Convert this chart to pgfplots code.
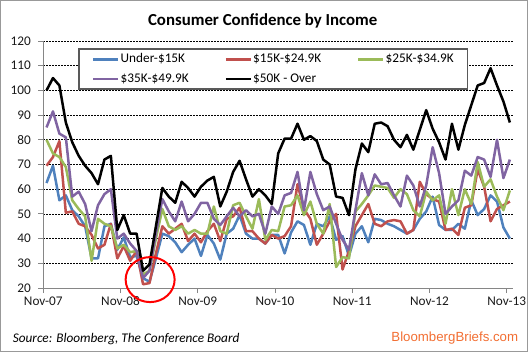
\documentclass[border=0pt]{standalone}
\usepackage{pgfplots}
\usepackage{pgfplotstable}
\pgfplotsset{compat=1.18}
\usepackage{fontspec}
\setmainfont{Carlito}
\newfontfamily\arialfont{Liberation Sans}
\definecolor{sblue}{RGB}{79,129,189}
\definecolor{sred}{RGB}{192,80,77}
\definecolor{sgreen}{RGB}{155,187,89}
\definecolor{spurple}{RGB}{128,100,162}
\definecolor{axgray}{RGB}{134,134,134}
\definecolor{orng}{RGB}{242,110,50}

\pgfplotstableread{
i blue red green purple black
0 62.5 69.5 80 85 100
1 69.5 73 74.5 91.5 105
2 55.5 79.5 73 82.5 102
3 57.5 50.5 69 81 87
4 51.5 51 55.5 57 79
5 49 46 52 59 73.5
6 45 45 49 54 69.5
7 32 41.5 31 43 66.5
8 32 36 48 53.5 62
9 45 37.5 46 58 72
10 46 46 45 60 73.5
11 35.5 32 36 40 43.5
12 40.5 37 37.5 42 49.5
13 32.5 31 34.5 38 42
14 33 35 35 35 42
15 24 21.5 25.5 24 27
16 22.5 22 27 27 29.5
17 32 34 40 42 45
18 42 45 52 56 60.5
19 41 42 45 51 57
20 38.5 44 43.5 47 54.5
21 34.5 46 45 55 63
22 37.5 39 42 47 60.5
23 40 42 43.5 50 57
24 33 38.5 42 54.5 61
25 41.5 43 42 54.5 63.5
26 38 46 53 48 65
27 31.5 39 43 45.5 53
28 42 48 42 49 59
29 44 49 53.5 52.5 67
30 49.5 52.5 54.5 49 71.5
31 42 43 49 51.5 64
32 40 43 44 49 57
33 40 40 56 50 60
34 38 38 39.5 42 57.5
35 41.5 41.5 43.5 53 54
36 41.5 40 43 50 74.5
37 34 41 53 57.5 80.5
38 42.5 45 53.5 58.5 80.5
39 47 62 57.5 67 86.5
40 45.5 52 49.5 51.5 80
41 37.5 48 55 67 81.5
42 46 37.5 46 58 79.5
43 45 42 42 51.5 72
44 49 47 54 53 70
45 39.5 50 28.5 46 57
46 41 27.5 32.5 39.5 56.5
47 33 35 32 35.5 49.5
48 42 45 51 51.5 68
49 45 49.5 54 66.5 78.5
50 38.5 54 57.5 57.5 75
51 48 46 61.5 66 86.5
52 47.5 45 61 62 87
53 46 47 60.5 62.5 85.5
54 45 47.5 56.5 57.5 80
55 43.5 47 60 53 77
56 42 42 58 65.5 82
57 43.5 43.5 51.5 61.5 76
58 48 63 49 53 84
59 51 58 59 61.5 92
60 57 56 55.5 77 84.5
61 45.5 55 57.5 66.5 79
62 43.5 43.5 46 50 72
63 43.5 44 60 53 86.5
64 46 41.5 49.5 55.5 76
65 44 52.5 60 67.5 86
66 55.5 53.5 54 65.5 94
67 49.5 68 71 73 102
68 52 61 61 72 103
69 57.5 47 64 65 109
70 55 52 57 80 102
71 44.5 53.5 51.5 64.5 95.5
72 40 55 59.5 72 87
}\datatable

\begin{document}
\begin{tikzpicture}
\useasboundingbox (0,0) rectangle (528bp,352bp);
\draw[black!40, line width=1bp] (0.5bp,0.5bp) rectangle (527.5bp,351.5bp);
\node[anchor=base, font=\fontsize{16.9}{18}\selectfont\bfseries] at (262.7bp,326bp) {Consumer Confidence by Income};
\node[anchor=base west, inner sep=0pt, font=\fontsize{13.3}{15}\selectfont\itshape] at (12.7bp,10bp) {Source: Bloomberg, The Conference Board};
\node[anchor=base east, inner sep=0pt, text=orng, font=\arialfont\fontsize{13.3}{15}\selectfont] at (518.3bp,10.3bp) {BloombergBriefs.com};
\begin{axis}[
  at={(43.3bp,64bp)}, anchor=south west,
  scale only axis, width=469.8bp, height=247bp,
  xmin=-0.5, xmax=72.5, ymin=20, ymax=120,
  xtick={-0.5,11.5,23.5,35.5,47.5,59.5,71.5},
  xticklabels={Nov-07,Nov-08,Nov-09,Nov-10,Nov-11,Nov-12,Nov-13},
  ytick={20,30,...,120},
  ymajorgrids,
  grid style={dash pattern=on 2bp off 1bp, line width=0.75bp, black},
  axis x line*=bottom, axis y line*=left,
  axis line style={axgray, line width=0.8bp},
  tick align=outside, major tick length=5bp,
  tick style={axgray, line width=0.8bp},
  ticklabel style={font=\fontsize{13.3}{15}\selectfont, text=black!90},
  yticklabel style={xshift=-4bp},
  /pgf/number format/assume math mode=true,
  clip=false,
  legend columns=3,
  legend style={at={(axis description cs:0.0749,0.9704)}, anchor=north west,
    draw=black!65, line width=1.5bp, fill=white,
    inner xsep=13bp, inner ysep=3bp,
    font=\fontsize{13.3}{15}\selectfont, row sep=5bp,
    nodes={inner sep=1bp, text height=9.5bp, text depth=3bp},
    /tikz/every even column/.append style={column sep=35bp}},
  legend image code/.code={\draw[#1] (0bp,0bp) -- (25bp,0bp);},
  every axis plot/.append style={line width=2.5bp, line join=round},
]
\addplot[sblue, no markers] table[x=i, y=blue] {\datatable};
\addlegendentry{\makebox[68bp][l]{Under-\$15K}}
\addplot[sred, no markers] table[x=i, y=red] {\datatable};
\addlegendentry{\makebox[68bp][l]{\$15K-\$24.9K}}
\addplot[sgreen, no markers] table[x=i, y=green] {\datatable};
\addlegendentry{\makebox[68bp][l]{\$25K-\$34.9K}}
\addplot[spurple, no markers] table[x=i, y=purple] {\datatable};
\addlegendentry{\makebox[68bp][l]{\$35K-\$49.9K}}
\addplot[black, no markers] table[x=i, y=black] {\datatable};
\addlegendentry{\makebox[68bp][l]{\$50K - Over}}
\draw[red, line width=2bp] (axis cs:16.1,23.4) ellipse [x radius=24.5bp, y radius=22.5bp];
\end{axis}
\end{tikzpicture}
\end{document}
